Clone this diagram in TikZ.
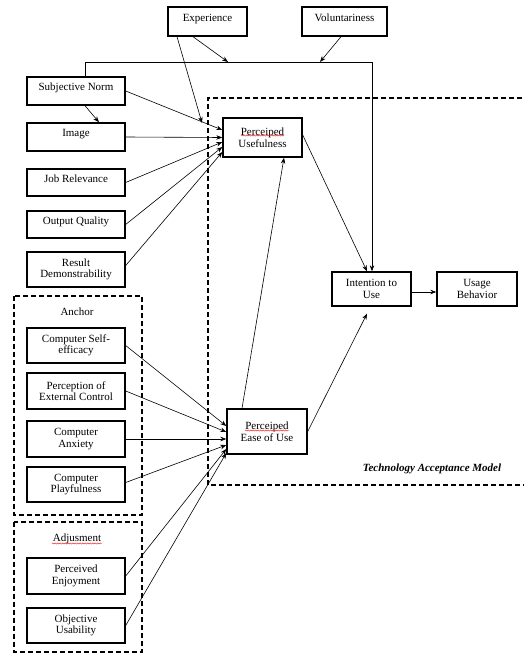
\documentclass[tikz,border=0pt]{standalone}
\usepackage{fontspec}
\setmainfont{Liberation Serif}
\usetikzlibrary{arrows.meta,decorations.pathmorphing}
\begin{document}
\begin{tikzpicture}[x=1pt,y=-1pt,
  font=\fontsize{11}{11.5}\selectfont,
  box/.style={draw, line width=1.4pt, align=center, inner sep=1pt},
  one/.style={text height=7pt, text depth=8pt},
  arr/.style={-{Stealth[length=6pt,width=4.5pt]}, line width=0.6pt},
  plain/.style={line width=0.6pt},
  dbox/.style={draw, line width=1.3pt, dash pattern=on 5pt off 3pt},
  wavy/.style={red, line width=0.45pt, decorate, decoration={snake, amplitude=0.6pt, segment length=2.5pt}}]
\useasboundingbox (0,0) rectangle (524,653);

% dashed frames
\draw[dbox] (530,98) -| (208,485) -- (530,485);
\draw[dbox] (14,296) rectangle (142,515);
\draw[dbox] (14,522) rectangle (142,652);

% boxes
\node[box,one,minimum width=79pt,minimum height=29pt] (exp) at (207.5,21.5) {Experience};
\node[box,one,minimum width=85pt,minimum height=29pt] (vol) at (344.5,21.5) {Voluntariness};
\node[box,one,minimum width=98pt,minimum height=28pt] (sn) at (76,91) {Subjective Norm};
\node[box,one,minimum width=98pt,minimum height=28pt] (img) at (76,137) {Image};
\node[box,one,minimum width=98pt,minimum height=27pt] (jr) at (76,182.5) {Job Relevance};
\node[box,one,minimum width=98pt,minimum height=27pt] (oq) at (76,224.5) {Output Quality};
\node[box,minimum width=98pt,minimum height=35pt] (rd) at (76,269.5) {Result\\Demonstrability};
\node[box,minimum width=98pt,minimum height=35pt] (cse) at (76,345.5) {Computer Self-\\efficacy};
\node[box,minimum width=98pt,minimum height=36pt] (pec) at (76,391) {Perception of\\External Control};
\node[box,minimum width=98pt,minimum height=36pt] (ca) at (76,439) {Computer\\Anxiety};
\node[box,minimum width=98pt,minimum height=35pt] (cp) at (76,484.5) {Computer\\Playfulness};
\node[box,minimum width=98pt,minimum height=36pt] (pe) at (76,576) {Perceived\\Enjoyment};
\node[box,minimum width=98pt,minimum height=35pt] (ou) at (76,625.5) {Objective\\Usability};
\node[box,minimum width=79pt,minimum height=39pt] (pu) at (262.5,137.5) {Perceiped\\Usefulness};
\node[box,minimum width=80pt,minimum height=45pt] (peou) at (267,431.5) {Perceiped\\Ease of Use};
\node[box,minimum width=79pt,minimum height=34pt] (iu) at (371.5,289) {Intention to\\Use};
\node[box,minimum width=80pt,minimum height=34pt] (ub) at (477,289) {Usage\\Behavior};

% labels
\node (anch) at (77,312) {Anchor};
\node (adj) at (77,539) {Adjusment};
\node[font=\fontsize{11}{11.5}\selectfont\bfseries\itshape] (tam) at (432,469) {Technology Acceptance Model};

% spell-check underlines
\draw[wavy] (241,135.5) -- (284,135.5);
\draw[wavy] (245,430.5) -- (289,430.5);
\draw[wavy] (52,543.5) -- (102,543.5);

% moderator line
\coordinate (k1) at (85,62);
\coordinate (k2) at (372,62);
\coordinate (ke) at (228,62);
\coordinate (kv) at (320,62);
\coordinate (kx) at (202,123);
\draw[plain] (sn.north -| k1) -- (k1) -- (k2);
\draw[arr] (k2) -- (iu.north -| k2);
\draw[arr] ([xshift=-14.5pt]exp.south) -- (ke);
\draw[arr] ([xshift=-3.5pt]vol.south) -- (kv);
\draw[arr] ([xshift=-30.5pt]exp.south) -- (kx);

% into PU
\draw[arr] ([xshift=9pt]sn.south) -- ([xshift=23pt]img.north);
\draw[arr] (sn.east) -- ([yshift=7.5pt]pu.west);
\draw[arr] (img.east) -- (pu.west);
\draw[arr] (jr.east) -- ([yshift=-4.5pt]pu.west);
\draw[arr] (oq.east) -- ([yshift=-9.5pt]pu.west);
\draw[arr] ([yshift=4pt]rd.east) -- ([yshift=-14.5pt]pu.west);

% into PEOU
\draw[arr] (cse.east) -- ([yshift=5.5pt]peou.west);
\draw[arr] (pec.east) -- ([yshift=-0.5pt]peou.west);
\draw[arr] (ca.east) -- ([yshift=-7.5pt]peou.west);
\draw[arr] ([yshift=2pt]cp.east) -- ([yshift=-13.5pt]peou.west);
\draw[arr] (pe.east) -- ([yshift=-17.5pt]peou.west);
\draw[arr] (ou.east) -- ([yshift=-21.5pt]peou.west);

% TAM core
\draw[arr] ([xshift=-25pt]peou.north) -- ([xshift=21.5pt]pu.south);
\draw[arr] ([yshift=2.5pt]pu.east) -- ([xshift=-4.5pt]iu.north);
\draw[arr] (peou.east) -- ([xshift=-4.5pt,yshift=-7pt]iu.south);
\draw[arr] ([yshift=-3pt]iu.east) -- ([yshift=-3pt]ub.west);
\end{tikzpicture}
\end{document}
